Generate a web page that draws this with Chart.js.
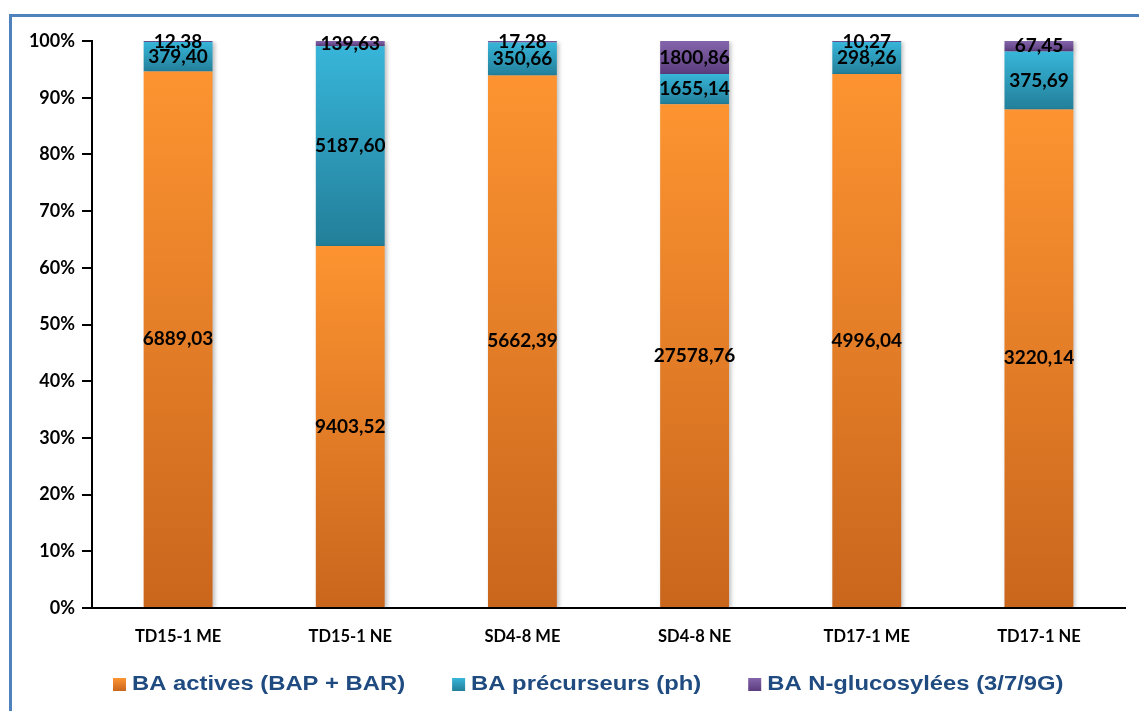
<!DOCTYPE html>
<html>
<head>
<meta charset="utf-8">
<script src="https://cdn.jsdelivr.net/npm/chart.js@4"></script>
<style>
  html, body { margin: 0; padding: 0; background: #fff; overflow: hidden; }
  #cadre { position: absolute; left: 9px; top: 14px; width: 1200px; height: 800px;
           border-top: 3px solid #4f81bd; border-left: 3px solid #4f81bd; }
  #wrap { position: absolute; left: 0; top: 0; width: 1139px; height: 711px; }
</style>
</head>
<body>
<div id="cadre"></div>
<div id="wrap"><canvas id="graphe"></canvas></div>
<script>
const categories = ["TD15-1 ME", "TD15-1 NE", "SD4-8 ME", "SD4-8 NE", "TD17-1 ME", "TD17-1 NE"];
const activesValues = [6889.03, 9403.52, 5662.39, 27578.76, 4996.04, 3220.14];
const precurseursValues = [379.40, 5187.60, 350.66, 1655.14, 298.26, 375.69];
const glucosylesValues = [12.38, 139.63, 17.28, 1800.86, 10.27, 67.45];
const seriesNames = ["BA actives (BAP + BAR)", "BA précurseurs (ph)", "BA N-glucosylées (3/7/9G)"];
const yTicks = [0, 10, 20, 30, 40, 50, 60, 70, 80, 90, 100];

const raw = [activesValues, precurseursValues, glucosylesValues];
const totals = categories.map((c, i) => raw.reduce((s, arr) => s + arr[i], 0));
const pct = raw.map(arr => arr.map((v, i) => v / totals[i] * 100));

const couleurs = [
    { haut: "#fd9431", bas: "#c9661d", legende: "#f28a2c" },
    { haut: "#37b5d9", bas: "#237f99", legende: "#31a8c9" },
    { haut: "#8464ab", bas: "#5b3d7e", legende: "#7652a0" }
];

// Dégradé vertical pour chaque segment
function degrade(context) {
    const chart = context.chart;
    const ds = context.datasetIndex;
    const i = context.dataIndex;
    const coul = couleurs[ds];
    const y = chart.scales.y;
    if (!chart.chartArea || !y || i === undefined) return coul.legende;
    let debut = 0;
    for (let k = 0; k < ds; k++) debut += pct[k][i];
    const fin = debut + pct[ds][i];
    const yHaut = y.getPixelForValue(fin);
    const yBas = y.getPixelForValue(debut);
    if (!isFinite(yHaut) || !isFinite(yBas) || yHaut === yBas) return coul.legende;
    const g = chart.ctx.createLinearGradient(0, yHaut, 0, yBas);
    g.addColorStop(0, coul.haut);
    g.addColorStop(1, coul.bas);
    return g;
}

function formatFr(v) {
    return v.toFixed(2).replace(".", ",");
}

// Ombre légère sous les barres
const ombre = {
    id: "ombre",
    beforeDatasetsDraw(chart) {
        const c = chart.ctx;
        c.save();
        c.shadowColor = "rgba(0,0,0,0.25)";
        c.shadowBlur = 4;
        c.shadowOffsetX = 2;
        c.shadowOffsetY = 1;
    },
    afterDatasetsDraw(chart) {
        chart.ctx.restore();
    }
};

// Étiquettes de valeurs au centre des segments
const etiquettes = {
    id: "etiquettes",
    afterDatasetsDraw(chart) {
        const c = chart.ctx;
        c.save();
        c.font = "bold 19px Lato";
        c.fillStyle = "#000";
        c.textAlign = "center";
        c.textBaseline = "middle";
        chart.data.datasets.forEach((ds, d) => {
            const meta = chart.getDatasetMeta(d);
            meta.data.forEach((bar, i) => {
                const yc = (bar.y + bar.base) / 2;
                c.fillText(formatFr(raw[d][i]), bar.x, yc);
            });
        });
        c.restore();
    }
};

// Légende dessinée sous l'axe (texte un peu étiré comme dans l'original)
const legende = {
    id: "legende",
    afterDraw(chart) {
        const c = chart.ctx;
        const etire = 1.19;
        let x = 113;
        const yc = 684;
        c.save();
        c.font = "bold 20px 'Liberation Sans'";
        c.textBaseline = "middle";
        chart.data.datasets.forEach((ds, d) => {
            const g = c.createLinearGradient(0, yc - 6, 0, yc + 7);
            g.addColorStop(0, couleurs[d].haut);
            g.addColorStop(1, couleurs[d].bas);
            c.fillStyle = g;
            c.fillRect(x, yc - 6, 13, 13);
            x += 19;
            c.save();
            c.translate(x, yc);
            c.scale(etire, 1);
            c.fillStyle = "#1f4b80";
            c.fillText(ds.label, 0, 0);
            c.restore();
            x += c.measureText(ds.label).width * etire + 47;
        });
        c.restore();
    }
};

const ctx = document.getElementById("graphe").getContext("2d");
new Chart(ctx, {
    type: "bar",
    data: {
        labels: categories,
        datasets: seriesNames.map((nom, d) => ({
            label: nom,
            data: pct[d],
            backgroundColor: degrade,
            borderWidth: 0,
            categoryPercentage: 1,
            barPercentage: 0.4
        }))
    },
    options: {
        responsive: true,
        maintainAspectRatio: false,
        animation: false,
        layout: { padding: { left: 0, top: 41, right: 14, bottom: 51 } },
        plugins: {
            tooltip: { enabled: false },
            legend: { display: false }
        },
        scales: {
            x: {
                stacked: true,
                grid: { display: false, drawTicks: false },
                border: { color: "#000", width: 2 },
                ticks: { color: "#000", padding: 19, font: { family: "Lato", size: 16.5, weight: "bold" } },
                afterFit(scale) { scale.height = 52; }
            },
            y: {
                stacked: true,
                min: 0,
                max: 100,
                afterBuildTicks(scale) { scale.ticks = yTicks.map(v => ({ value: v })); },
                grid: { drawOnChartArea: false, color: "#000", tickLength: 10, lineWidth: 2 },
                border: { color: "#000", width: 2 },
                ticks: {
                    color: "#000",
                    padding: 7,
                    font: { family: "Lato", size: 18, weight: "bold" },
                    callback: v => v + "%"
                },
                afterFit(scale) { scale.width = 92; }
            }
        }
    },
    plugins: [ombre, etiquettes, legende]
});
</script>
</body>
</html>
